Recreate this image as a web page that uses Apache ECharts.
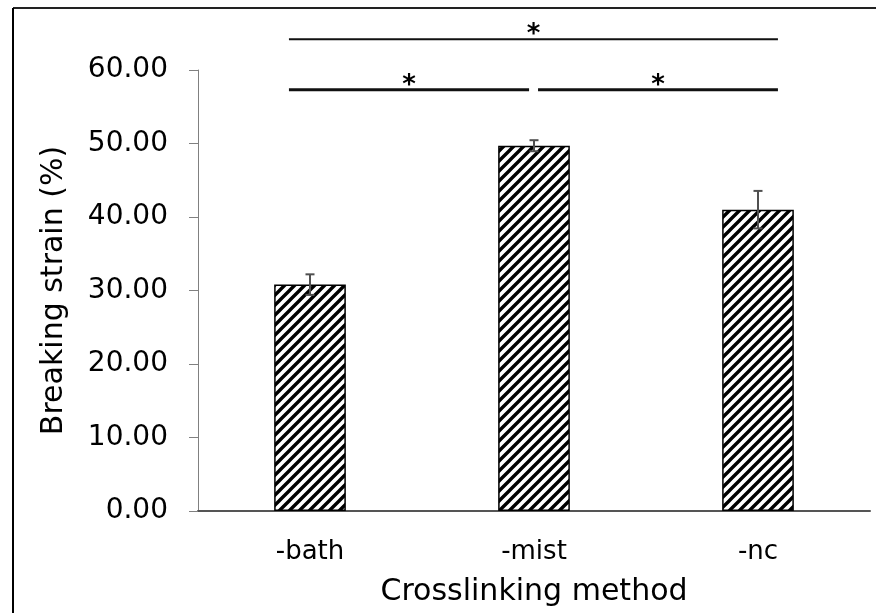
<!DOCTYPE html>
<html><head><meta charset="utf-8">
<script src="https://cdn.jsdelivr.net/npm/echarts@6/dist/echarts.min.js"></script>
<style>html,body{margin:0;padding:0;background:#fff}#c{width:876px;height:613px}</style>
</head><body><div id="c"></div>
<script>
// ---- data ----
const categories = ['-bath', '-mist', '-nc'];
const means = [30.8, 49.7, 41.0];
const errors = [1.4, 0.75, 2.55];
const yMin = 0, yMax = 60, yStep = 10;
// significance brackets (x in category-index span 0..3, y in value units)
const sigStarts = [0.406, 0.406, 1.518];
const sigEnds = [2.589, 1.478, 2.589];
const sigLevels = [64.2, 57.3, 57.3];
const sigLabels = ['*', '*', '*'];

const FONT = 'DejaVu Sans';

// hatch pattern
const pc = document.createElement('canvas'); pc.width = 10; pc.height = 10;
const g = pc.getContext('2d');
g.fillStyle = '#fff'; g.fillRect(0, 0, 10, 10);
g.strokeStyle = '#000'; g.lineWidth = 3.4; g.lineCap = 'square';
g.beginPath();
g.moveTo(-2, 12); g.lineTo(12, -2);
g.moveTo(-3, 3); g.lineTo(3, -3);
g.moveTo(7, 13); g.lineTo(13, 7);
g.stroke();

const errData = categories.map((c, i) => [i, means[i] - errors[i], means[i] + errors[i]]);
const sigData = sigStarts.map((s, i) => [s, sigEnds[i], sigLevels[i], sigLabels[i]]);

const chart = echarts.init(document.getElementById('c'), null, {renderer: 'canvas'});
chart.setOption({
  animation: false,
  backgroundColor: '#fff',
  grid: {left: 198, right: 6, top: 70, bottom: 102, containLabel: false},
  xAxis: [{
    type: 'category', data: categories,
    axisLine: {lineStyle: {color: '#555', width: 2}},
    axisTick: {show: false},
    axisLabel: {color: '#000', fontFamily: FONT, fontSize: 26, margin: 28},
    name: 'Crosslinking method', nameLocation: 'middle', nameGap: 66,
    nameTextStyle: {color: '#000', fontFamily: FONT, fontSize: 30}
  }, {
    type: 'value', min: 0, max: 3, show: false
  }],
  yAxis: {
    type: 'value', min: yMin, max: yMax, interval: yStep,
    splitLine: {show: false},
    axisLine: {show: true, lineStyle: {color: '#808080', width: 1}},
    axisTick: {show: true, length: 9, lineStyle: {color: '#808080', width: 1}},
    axisLabel: {color: '#000', fontFamily: FONT, fontSize: 28, margin: 30,
      formatter: v => v.toFixed(2)},
    name: 'Breaking strain (%)', nameLocation: 'middle', nameGap: 129,
    nameTextStyle: {color: '#000', fontFamily: FONT, fontSize: 30}
  },
  graphic: [
    {type: 'line', shape: {x1: 13, y1: 8, x2: 876, y2: 8}, style: {stroke: '#222', lineWidth: 2}},
    {type: 'line', shape: {x1: 13, y1: 8, x2: 13, y2: 613}, style: {stroke: '#000', lineWidth: 2}}
  ],
  series: [{
    type: 'bar', data: means, barWidth: '32%',
    itemStyle: {color: {image: pc, repeat: 'repeat'}, borderColor: '#000', borderWidth: 1.5}
  }, {
    type: 'custom', data: errData, xAxisIndex: 0, z: 5,
    renderItem: (params, api) => {
      const x = api.value(0);
      const lo = api.coord([x, api.value(1)]);
      const hi = api.coord([x, api.value(2)]);
      const cw = 4.5;
      const st = {stroke: '#505050', lineWidth: 2};
      return {type: 'group', children: [
        {type: 'line', shape: {x1: lo[0], y1: lo[1], x2: hi[0], y2: hi[1]}, style: st},
        {type: 'line', shape: {x1: hi[0] - cw, y1: hi[1], x2: hi[0] + cw, y2: hi[1]}, style: st},
        {type: 'line', shape: {x1: lo[0] - cw, y1: lo[1], x2: lo[0] + cw, y2: lo[1]}, style: st}
      ]};
    }
  }, {
    type: 'custom', data: sigData, xAxisIndex: 1, clip: false, z: 6,
    encode: {x: [0, 1], y: 2},
    renderItem: (params, api) => {
      const a = api.coord([api.value(0), api.value(2)]);
      const b = api.coord([api.value(1), api.value(2)]);
      const w = params.dataIndex === 0 ? 2 : 3;
      return {type: 'group', children: [
        {type: 'line', shape: {x1: a[0], y1: a[1], x2: b[0], y2: b[1]}, style: {stroke: '#111', lineWidth: w}},
        {type: 'text', style: {text: sigData[params.dataIndex][3], x: (a[0] + b[0]) / 2, y: a[1] + 9,
          align: 'center', verticalAlign: 'bottom', fontFamily: FONT, fontWeight: 'bold', fontSize: 26, fill: '#000'}}
      ]};
    }
  }]
});
</script></body></html>
